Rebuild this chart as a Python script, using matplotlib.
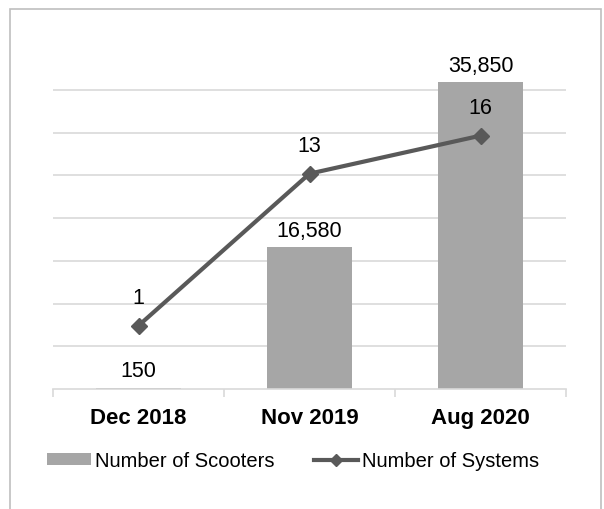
import matplotlib
matplotlib.use("Agg")
import matplotlib.pyplot as plt
from matplotlib.patches import Rectangle
from matplotlib.lines import Line2D
from matplotlib.patches import Patch

categories = ["Dec 2018", "Nov 2019", "Aug 2020"]
scooters = [150, 16580, 35850]
systems = [1, 13, 16]
scooter_labels = ["150", "16,580", "35,850"]
system_labels = ["1", "13", "16"]

plt.rcParams['font.family'] = ['Liberation Sans', 'DejaVu Sans']

W, H = 604, 510
fig = plt.figure(figsize=(W / 100, H / 100), dpi=100)
fig.patches.append(Rectangle((10 / W, -0.1), (601 - 10) / W, 1.1 - 10 / H,
                             transform=fig.transFigure, fill=False,
                             edgecolor='#bfbfbf', linewidth=1.2))

left, right, top, bottom = 53, 566, 48, 390
ax = fig.add_axes([left / W, 1 - bottom / H, (right - left) / W, (bottom - top) / H])
x = list(range(len(categories)))
bar_color = '#a6a6a6'
line_color = '#595959'
ax.bar(x, scooters, width=0.5, color=bar_color, zorder=2)
ax.set_xlim(-0.5, 2.5)
ax.set_ylim(0, 40000)
ax.set_yticks(range(5000, 40000, 5000))
ax.yaxis.grid(True, color='#d9d9d9', linewidth=1.2, zorder=0)
for s in ['top', 'left', 'right']:
    ax.spines[s].set_visible(False)
ax.spines['bottom'].set_color('#d9d9d9')
ax.spines['bottom'].set_linewidth(1.2)
ax.set_xticks([-0.5, 0.5, 1.5, 2.5])
ax.set_xticklabels([])
ax.tick_params(axis='x', which='major', length=6, color='#d9d9d9', width=1.2)
ax.set_xticks(x, minor=True)
ax.set_xticklabels(categories, minor=True, fontsize=16, fontweight='bold')
ax.tick_params(axis='x', which='minor', length=0, pad=13)
for xi, v, lab in zip(x, scooters, scooter_labels):
    ax.annotate(lab, (xi, v), xytext=(0, 4.5), textcoords='offset points',
                ha='center', va='bottom', fontsize=15.5)

ax2 = ax.twinx()
ax2.plot(x, systems, color=line_color, linewidth=3, marker='D', markersize=8, zorder=3)
ax2.set_ylim(-4, 23)
ax2.axis('off')
for xi, v, lab in zip(x, systems, system_labels):
    ax2.annotate(lab, (xi, v), xytext=(0, 20.5), textcoords='offset points',
                 ha='center', va='center', fontsize=15.5)
ax.tick_params(axis='y', which='both', left=False, right=False,
               labelleft=False, labelright=False)

handles = [Patch(facecolor=bar_color, edgecolor='none'),
           Line2D([], [], color=line_color, linewidth=3, marker='D', markersize=6)]
fig.legend(handles, ["Number of Scooters", "Number of Systems"],
           loc='center', bbox_to_anchor=(293 / W, 1 - 462 / H), ncol=2, frameon=False,
           fontsize=14.5, handlelength=2.15, handletextpad=0.2, columnspacing=2.0,
           handleheight=0.55)

fig.savefig("out.png", dpi=100)
